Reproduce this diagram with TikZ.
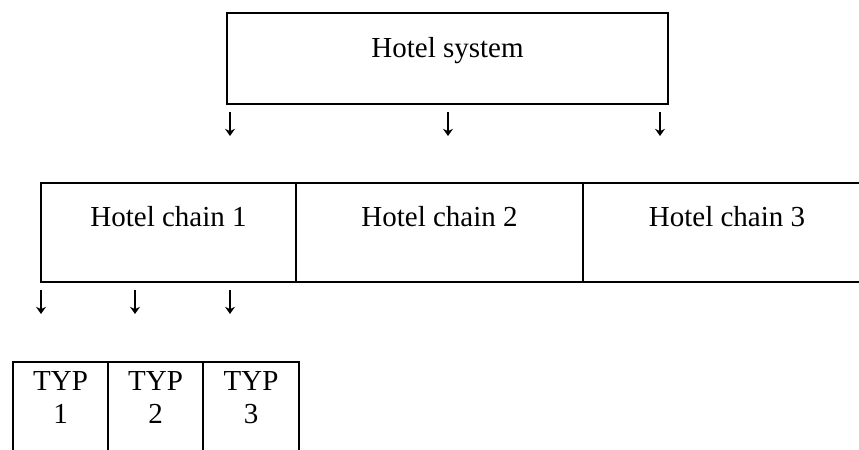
\documentclass[tikz,border=0pt]{standalone}
\usepackage{fontspec}
\setmainfont{Liberation Serif}
\usetikzlibrary{arrows.meta}
\tikzset{
  hcelle/.style={draw=black, line width=0.9pt, inner sep=0pt},
  htekst/.style={font=\fontsize{14.5}{16.5}\selectfont, inner sep=0pt, anchor=base},
  hpil/.style={-{Stealth[length=3.6pt,width=5pt,inset=1.2pt]}, line width=0.6pt, draw=black},
}

\begin{document}
\begin{tikzpicture}[x=0.5pt,y=-0.5pt]
        \useasboundingbox (0,0) rectangle (859,450);
        \clip (0,0) rectangle (859,450);
        % ---------------- hotel system ----------------
        \node[hcelle, minimum width=220.5pt, minimum height=45.5pt] (sys) at (447.5,58.5) {};
        \node[htekst] (systxt) at (447.5,57) {Hotel system};
        % ---------------- kjeder ----------------
        \node[hcelle, minimum width=127.5pt, minimum height=49.5pt] (k1) at (168.5,232.5) {};
        \node[hcelle, minimum width=143.5pt, minimum height=49.5pt] (k2) at (439.5,232.5) {};
        \node[hcelle, minimum width=144pt, minimum height=49.5pt] (k3) at (727,232.5) {};
        \node[htekst] (k1txt) at (168.5,226) {Hotel chain 1};
        \node[htekst] (k2txt) at (439.5,226) {Hotel chain 2};
        \node[htekst] (k3txt) at (727,226) {Hotel chain 3};
        % ---------------- typer ----------------
        \node[hcelle, minimum width=47.5pt, minimum height=59pt] (t1) at (60.5,421) {};
        \node[hcelle, minimum width=47.5pt, minimum height=59pt] (t2) at (155.5,421) {};
        \node[hcelle, minimum width=48pt, minimum height=59pt] (t3) at (251,421) {};
        \node[htekst] (t1a) at (60.5,390) {TYP};
        \node[htekst] (t1b) at (60.5,423) {1};
        \node[htekst] (t2a) at (155.5,390) {TYP};
        \node[htekst] (t2b) at (155.5,423) {2};
        \node[htekst] (t3a) at (251,390) {TYP};
        \node[htekst] (t3b) at (251,423) {3};
        % ---------------- piler ----------------
        \foreach \x [count=\i] in {230,448,660} {
          \coordinate (sa\i) at (\x,112);
          \coordinate (sb\i) at (\x,136);
          \draw[hpil] (sa\i) -- (sb\i);
        }
        \foreach \x [count=\i] in {41,135,230} {
          \coordinate (ka\i) at (\x,290);
          \coordinate (kb\i) at (\x,314);
          \draw[hpil] (ka\i) -- (kb\i);
        }
\end{tikzpicture}
\end{document}
